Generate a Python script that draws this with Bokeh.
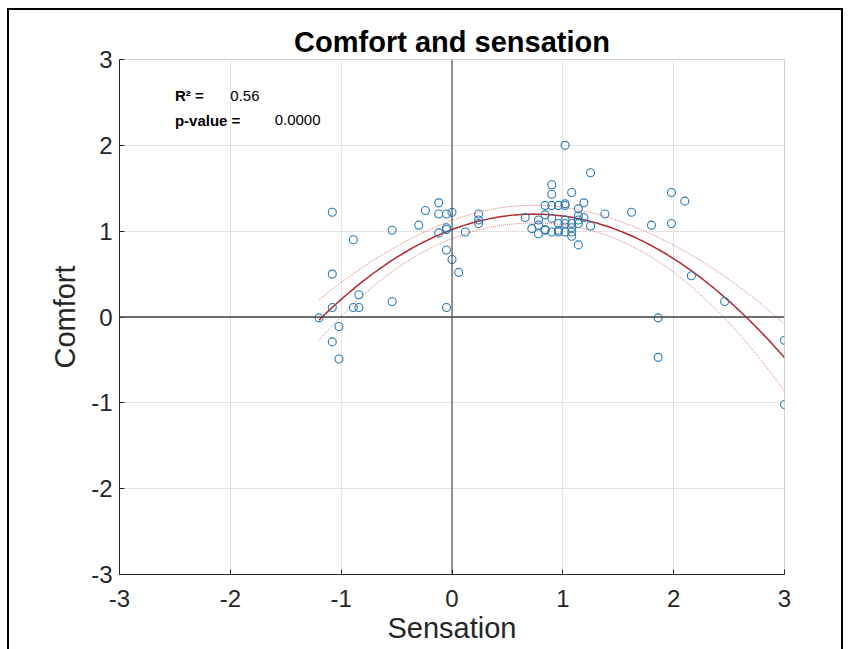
import numpy as np
from bokeh.plotting import figure
from bokeh.models import Span, Label, FixedTicker, ColumnDataSource, PrintfTickFormatter
from bokeh.embed import file_html
from bokeh.resources import INLINE

# ---- data ----
sensation = [-1.20, -1.08, -1.08, -1.08, -1.08, -1.02, -1.02, -0.89, -0.89, -0.84,
             -0.84, -0.54, -0.54, -0.30, -0.24, -0.12, -0.12, -0.12, -0.05, -0.05,
             -0.05, -0.05, -0.05, 0.00, 0.00, 0.06, 0.12, 0.24, 0.24, 0.24,
             0.66, 0.72, 0.78, 0.78, 0.78, 0.84, 0.84, 0.84, 0.84, 0.90,
             0.90, 0.90, 0.90, 0.90, 0.96, 0.96, 0.96, 0.96, 1.02, 1.02,
             1.02, 1.02, 1.02, 1.02, 1.08, 1.08, 1.08, 1.08, 1.08, 1.14,
             1.14, 1.14, 1.14, 1.14, 1.19, 1.19, 1.25, 1.25, 1.38, 1.62,
             1.80, 1.86, 1.86, 1.98, 1.98, 2.10, 2.16, 2.46, 3.00, 3.00]
comfort = [-0.01, 1.22, 0.50, 0.11, -0.29, -0.11, -0.49, 0.90, 0.11, 0.26,
           0.11, 1.01, 0.18, 1.07, 1.24, 1.33, 1.20, 0.98, 1.20, 1.04,
           1.02, 0.78, 0.11, 1.22, 0.67, 0.52, 0.99, 1.20, 1.13, 1.09,
           1.16, 1.03, 1.13, 1.07, 0.97, 1.30, 1.19, 1.02, 1.01, 1.54,
           1.43, 1.30, 1.15, 0.99, 1.30, 1.09, 1.01, 0.99, 2.00, 1.30,
           1.32, 1.13, 1.09, 0.99, 1.45, 1.09, 1.04, 0.99, 0.94, 1.26,
           1.18, 1.13, 1.09, 0.84, 1.33, 1.16, 1.68, 1.06, 1.20, 1.22,
           1.07, -0.01, -0.47, 1.45, 1.09, 1.35, 0.48, 0.18, -0.27, -1.02]
axis_ticks = [-3, -2, -1, 0, 1, 2, 3]
r_squared_text = "0.56"
p_value_text = "0.0000"
title_text = "Comfort and sensation"
x_label = "Sensation"
y_label = "Comfort"

# ---- quadratic fit with confidence band ----
xs = np.array(sensation)
ys = np.array(comfort)
X = np.column_stack([np.ones_like(xs), xs, xs ** 2])
beta, *_ = np.linalg.lstsq(X, ys, rcond=None)
resid = ys - X @ beta
dof = len(xs) - 3
s2 = resid @ resid / dof
cov = s2 * np.linalg.inv(X.T @ X)
xg = np.linspace(xs.min(), xs.max(), 200)
Xg = np.column_stack([np.ones_like(xg), xg, xg ** 2])
yg = Xg @ beta
se = np.sqrt(np.einsum("ij,jk,ik->i", Xg, cov, Xg))
t_val = 1.99
fit_src = ColumnDataSource(dict(x=xg, y=yg, lo=yg - t_val * se, hi=yg + t_val * se))

FONT = "Liberation Sans"
DARK = "#262626"

p = figure(width=836, height=660, x_range=(-3, 3), y_range=(-3, 3),
           output_backend="svg", toolbar_location=None,
           min_border_left=110, min_border_right=61,
           min_border_top=49, min_border_bottom=96,
           background_fill_color="white", border_fill_color="white")
p.styles = {"border": "2px solid black", "margin-left": "7px", "margin-top": "8px"}

p.title.text = title_text
p.title.align = "center"
p.title.text_font = FONT
p.title.text_font_size = "29px"
p.title.text_font_style = "bold"
p.title.text_color = "black"
p.title.offset = 0
p.title.standoff = 4

for ax in (p.xaxis[0], p.yaxis[0]):
    ax.ticker = FixedTicker(ticks=axis_ticks)
    ax.formatter = PrintfTickFormatter(format="%d")
    ax.major_tick_in = 5
    ax.major_tick_out = 0
    ax.minor_tick_line_color = None
    ax.axis_line_color = DARK
    ax.major_tick_line_color = DARK
    ax.major_label_text_font = FONT
    ax.major_label_text_font_size = "24px"
    ax.major_label_text_color = DARK
    ax.axis_label_text_font = FONT
    ax.axis_label_text_font_size = "29px"
    ax.axis_label_text_font_style = "normal"
    ax.axis_label_text_color = DARK

p.xaxis.axis_label = x_label
p.yaxis.axis_label = y_label
p.xaxis.major_label_standoff = 15
p.yaxis.major_label_standoff = 7
p.xaxis.axis_label_standoff = 2
p.yaxis.axis_label_standoff = 7

p.xgrid.grid_line_color = "#e3e3e3"
p.ygrid.grid_line_color = "#e3e3e3"
p.outline_line_color = "#cfcfcf"

p.add_layout(Span(location=0, dimension="height", line_color="#333333", line_width=1))
p.add_layout(Span(location=0, dimension="width", line_color="#444444", line_width=1.5))

p.line("x", "hi", source=fit_src, line_color="#e07b7b", line_width=1, line_dash="1 1")
p.line("x", "lo", source=fit_src, line_color="#e07b7b", line_width=1, line_dash="1 1")
p.line("x", "y", source=fit_src, line_color="#b5262b", line_width=1.5)

p.scatter(sensation, comfort, marker="circle", size=8, fill_color=None,
          line_color="#2a7ab4", line_width=1.1)

p.add_layout(Label(x=-2.50, y=2.58, text="R\u00b2 =", text_font=FONT,
                   text_font_size="15px", text_font_style="bold",
                   text_baseline="middle", text_color="black"))
p.add_layout(Label(x=-2.0, y=2.58, text=r_squared_text, text_font=FONT,
                   text_font_size="15px", text_baseline="middle", text_color="black"))
p.add_layout(Label(x=-2.50, y=2.29, text="p-value =", text_font=FONT,
                   text_font_size="15px", text_font_style="bold",
                   text_baseline="middle", text_color="black"))
p.add_layout(Label(x=-1.6, y=2.29, text=p_value_text, text_font=FONT,
                   text_font_size="15px", text_baseline="middle", text_color="black"))

open("out.html", "w").write(file_html(p, INLINE))
